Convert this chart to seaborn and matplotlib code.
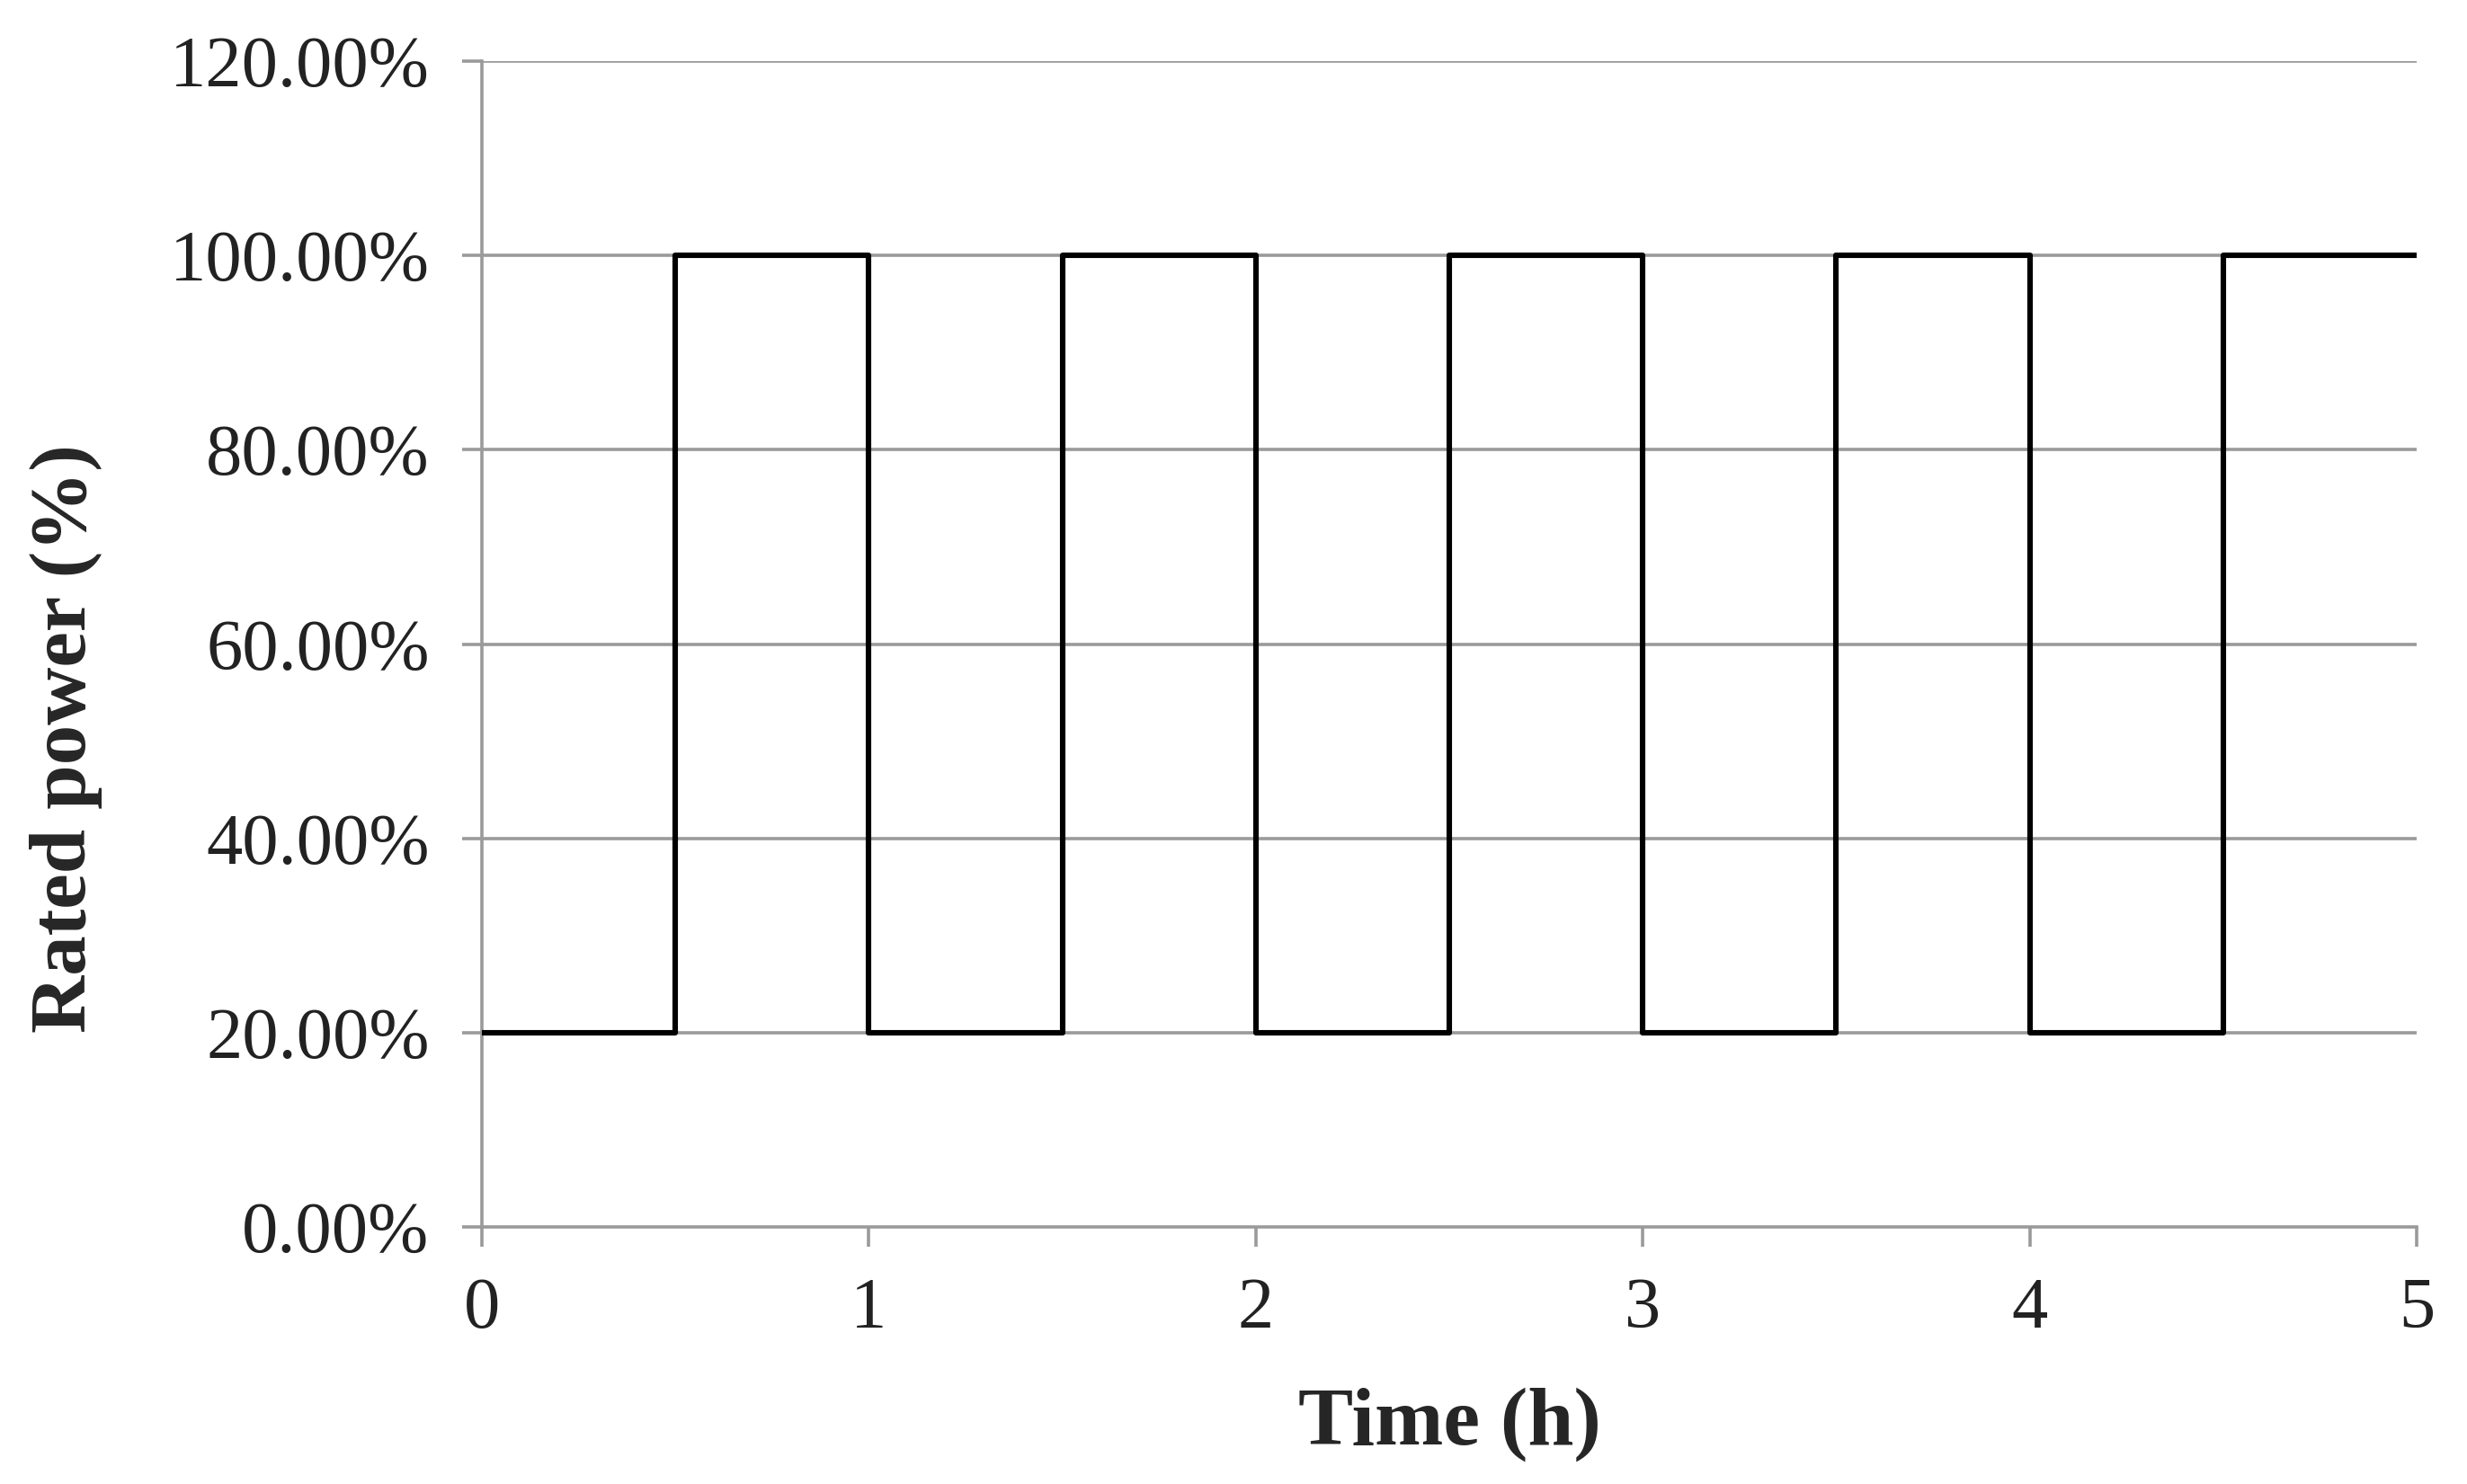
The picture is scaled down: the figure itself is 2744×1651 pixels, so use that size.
import numpy as np
import pandas as pd
import matplotlib
matplotlib.use('Agg')
import matplotlib.pyplot as plt
import seaborn as sns

# step profile of rated power over time
time_h = [0, 0.5, 1, 1.5, 2, 2.5, 3, 3.5, 4, 4.5, 5]
rated_power = [20, 100, 20, 100, 20, 100, 20, 100, 20, 100, 100]
y_ticks = [0, 20, 40, 60, 80, 100, 120]
x_ticks = [0, 1, 2, 3, 4, 5]

sns.set_theme(style='white')
plt.rcParams['font.family'] = ['Liberation Serif', 'DejaVu Serif']

df = pd.DataFrame({'Time (h)': time_h, 'Rated power (%)': rated_power})

fig = plt.figure(figsize=(13.72, 8.255), dpi=200)
ax = fig.add_axes([0.1953, 0.1732, 0.7843, 0.7856])

grid_c = '#9a9a9a'
for v in y_ticks[1:]:
    ax.axhline(v, color=grid_c, lw=1.3, zorder=1)

sns.lineplot(data=df, x='Time (h)', y='Rated power (%)', drawstyle='steps-post',
             color='black', lw=2.2, ax=ax, zorder=3)

ax.set_xlim(0, 5)
ax.set_ylim(0, 120)
ax.set_xticks(x_ticks)
ax.set_yticks(y_ticks)
ax.set_xticklabels([str(t) for t in x_ticks])
ax.set_yticklabels(['{:.2f}%'.format(v) for v in y_ticks])
ax.tick_params(axis='both', labelsize=29, colors=grid_c, labelcolor='#222222',
               length=8, width=1.3, direction='out', bottom=True, left=True)
ax.tick_params(axis='x', pad=12)
ax.tick_params(axis='y', pad=13)

for side in ['top', 'right']:
    ax.spines[side].set_visible(False)
for side in ['left', 'bottom']:
    ax.spines[side].set_color(grid_c)
    ax.spines[side].set_linewidth(1.3)

ax.set_xlabel('Time (h)', fontsize=33, fontweight='bold', labelpad=18)
ax.set_ylabel('Rated power (%)', fontsize=32, fontweight='bold')
ax.yaxis.set_label_coords(-0.196, 0.419)

fig.savefig('out.png', dpi=200, facecolor='white')
